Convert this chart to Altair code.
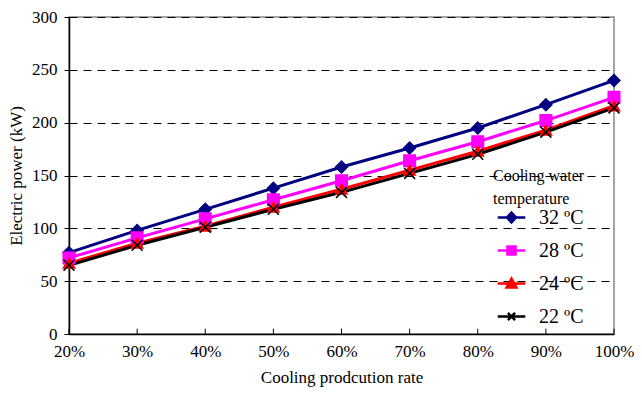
import altair as alt
import pandas as pd

rates = [20, 30, 40, 50, 60, 70, 80, 90, 100]
series_names = ["32 \u00baC", "28 \u00baC", "24 \u00baC", "22 \u00baC"]
p32 = [77, 98, 118, 138, 158, 176, 195, 217, 240]
p28 = [72, 91, 109, 127, 145, 164, 182, 202, 224]
p24 = [67, 86, 102, 120, 137, 155, 173, 193, 216]
p22 = [65, 84, 101, 118, 134, 152, 170, 191, 214]
colors = ["#000080", "#FF00FF", "#FF0000", "#000000"]
widths = [3, 3, 3.5, 1.5]

rows = []
for name, vals in zip(series_names, [p32, p28, p24, p22]):
    for r, v in zip(rates, vals):
        rows.append({"rate": r, "power": v, "series": name, "leg": name})
df = pd.DataFrame(rows)

FONT = "Liberation Serif"
xenc = alt.X("rate:Q", scale=alt.Scale(domain=[20, 100], nice=False),
             axis=alt.Axis(values=rates, labelExpr="datum.value + '%'",
                           title="Cooling prodcution rate", tickSize=0,
                           labelFlush=False,
                           labelPadding=9, titlePadding=10, grid=False))
yenc = alt.Y("power:Q", scale=alt.Scale(domain=[0, 300], nice=False),
             axis=alt.Axis(values=[0, 50, 100, 150, 200, 250, 300],
                           title="Electric power (kW)", tickSize=5,
                           labelPadding=7, titlePadding=6,
                           grid=True, gridDash=[8, 6], gridColor="#000000",
                           gridOpacity=1, gridWidth=1))

color_scale = alt.Scale(domain=series_names, range=colors)
X_PATH = "M-1,-1L1,1M1,-1L-1,1"
shape_scale = alt.Scale(domain=series_names,
                        range=["diamond", "square", "triangle-up", X_PATH])

base = alt.Chart(df)

lines = base.mark_line().encode(
    x=xenc, y=yenc,
    color=alt.Color("series:N", scale=color_scale, legend=None),
    strokeWidth=alt.StrokeWidth("series:N",
                                scale=alt.Scale(domain=series_names, range=widths),
                                legend=None),
)

points = base.mark_point(filled=False, opacity=1, strokeWidth=1.5).encode(
    x="rate:Q", y="power:Q",
    fill=alt.Fill("series:N", scale=alt.Scale(domain=series_names,
                  range=["#000080", "#FF00FF", "#FF0000", "transparent"]), legend=None),
    stroke=alt.Stroke("series:N", scale=color_scale, legend=None),
    shape=alt.Shape("series:N", scale=shape_scale, legend=None),
    size=alt.Size("series:N", scale=alt.Scale(domain=series_names,
                  range=[140, 120, 130, 110]), legend=None),
)

ticks_df = pd.DataFrame({"rate": rates})
xticks = alt.Chart(ticks_df).mark_rule(color="black", strokeWidth=1).encode(
    x="rate:Q", y=alt.datum(0), y2=alt.datum(5))

L = "M-1.53,0L1.53,0"
legend_paths = [
    L + "M0,-0.55L0.5,0L0,0.55L-0.5,0Z",
    L + "M-0.45,-0.45L0.45,-0.45L0.45,0.45L-0.45,0.45Z",
    L + "M0,-0.55L0.55,0.45L-0.55,0.45Z",
    L + "M-0.4,-0.4L0.4,0.4M0.4,-0.4L-0.4,0.4",
]
leg = alt.Legend(
    title=["Cooling water", "temperature"],
    orient="none", legendX=424, legendY=151,
    symbolSize=324, symbolOpacity=1, symbolStrokeWidth=2.5,
    symbolOffset=8,
    labelFont=FONT, labelFontSize=20, labelOffset=17,
    titleFont=FONT, titleFontSize=16, titleFontWeight="normal",
    titleLineHeight=23,
    titleColor="black", labelColor="black",
    rowPadding=12, titlePadding=0)
hidden = base.mark_point(filled=True, opacity=0).encode(
    x="rate:Q", y="power:Q",
    color=alt.Color("leg:N", scale=alt.Scale(domain=series_names, range=colors), legend=leg),
    shape=alt.Shape("leg:N", scale=alt.Scale(domain=series_names, range=legend_paths),
                    legend=leg),
    stroke=alt.Stroke("leg:N", scale=alt.Scale(domain=series_names, range=colors), legend=leg),
)

chart = alt.layer(lines, points, xticks, hidden).resolve_scale(
    color="independent", stroke="independent", shape="independent", fill="independent"
).resolve_legend(
    color="independent", stroke="independent", shape="independent"
).properties(
    width=545, height=317,
    autosize=alt.AutoSizeParams(type="none"),
    padding={"left": 61, "top": 9, "right": 20, "bottom": 60},
).configure_view(stroke="#888888", strokeWidth=1.5).configure_axis(
    labelFont=FONT, titleFont=FONT, labelFontSize=17, titleFontSize=17,
    titleFontWeight="normal", labelColor="black", titleColor="black",
    domainColor="black", domainWidth=1.5, tickColor="black",
)

chart.save("out.html", embed_options={"renderer": "svg", "actions": False})
